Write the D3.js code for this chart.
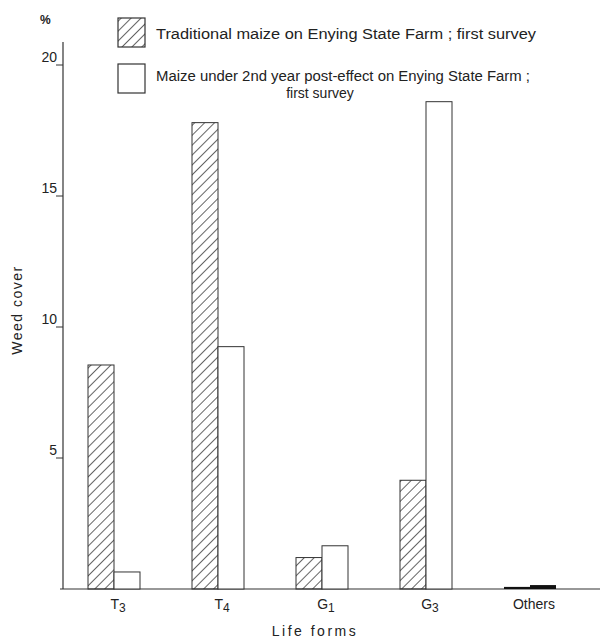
<!DOCTYPE html>
<html><head><meta charset="utf-8">
<script src="https://cdn.jsdelivr.net/npm/d3@7"></script>
<style>body{margin:0;background:#fff}svg{display:block}text{font-family:"Liberation Sans",Arial,sans-serif;fill:#222}</style>
</head><body>
<script>
const categories = ["T3","T4","G1","G3","Others"];
const traditional = [8.55, 17.8, 1.2, 4.15, 0.08];
const postEffect = [0.65, 9.25, 1.65, 18.6, 0.15];
const yTicks = [5, 10, 15, 20];
const seriesNames = ["Traditional maize on Enying State Farm ; first survey",
  "Maize under 2nd year post-effect on Enying State Farm ;", "first survey"];

const W=600,H=642;
const svg=d3.select("body").append("svg").attr("width",W).attr("height",H);
const defs=svg.append("defs");
const pat=defs.append("pattern").attr("id","hatch").attr("patternUnits","userSpaceOnUse")
  .attr("width",7).attr("height",7).attr("patternTransform","rotate(45)");
pat.append("line").attr("x1",0).attr("y1",0).attr("x2",0).attr("y2",7).attr("stroke","#222").attr("stroke-width",1.4);

const x=d3.scaleBand().domain(categories).range([62,582]).paddingInner(0.5).paddingOuter(0.25);
const y=d3.scaleLinear().domain([0,20]).range([589,65]);
const bw=x.bandwidth()/2;

// axes lines
svg.append("line").attr("x1",63).attr("x2",63).attr("y1",42).attr("y2",y(0)).attr("stroke","#333").attr("stroke-width",1.2);
svg.append("line").attr("x1",60).attr("x2",600).attr("y1",y(0)).attr("y2",y(0)).attr("stroke","#333").attr("stroke-width",1.2);

// ticks
const tg=svg.append("g").selectAll("g").data(yTicks).join("g");
tg.append("line").attr("x1",56).attr("x2",63).attr("y1",d=>y(d)).attr("y2",d=>y(d)).attr("stroke","#333");
tg.append("text").attr("x",57).attr("y",d=>y(d)-3).attr("text-anchor","end").attr("font-size",14).text(d=>d);

svg.append("text").attr("x",40).attr("y",24).attr("font-size",12).attr("font-weight","bold").text("%");
svg.append("text").attr("transform","translate(22,310) rotate(-90)").attr("text-anchor","middle")
  .attr("font-size",14).attr("letter-spacing",1.5).text("Weed cover");

// bars
const isOthers=d=>d==="Others";
svg.append("g").selectAll("rect").data(categories).join("rect")
  .attr("x",d=>x(d)).attr("width",bw)
  .attr("y",(d,i)=>y(traditional[i])).attr("height",(d,i)=>y(0)-y(traditional[i]))
  .attr("fill",d=>isOthers(d)?"#111":"url(#hatch)").attr("stroke",d=>isOthers(d)?"none":"#333").attr("stroke-width",1);
svg.append("g").selectAll("rect").data(categories).join("rect")
  .attr("x",d=>x(d)+bw).attr("width",bw)
  .attr("y",(d,i)=>y(postEffect[i])).attr("height",(d,i)=>y(0)-y(postEffect[i]))
  .attr("fill",d=>isOthers(d)?"#111":"#fff").attr("stroke",d=>isOthers(d)?"none":"#333").attr("stroke-width",1);

// category labels
const lab=svg.append("g").selectAll("text").data(categories).join("text")
  .attr("x",d=>x(d)+x.bandwidth()/2+4).attr("y",609).attr("text-anchor","middle").attr("font-size",14);
lab.each(function(d){
  const t=d3.select(this);
  if(d==="Others"){t.text(d);return;}
  t.append("tspan").text(d[0]);
  t.append("tspan").attr("dy",3).attr("font-size",12).text(d.slice(1));
});
svg.append("text").attr("x",315).attr("y",636).attr("text-anchor","middle").attr("font-size",14)
  .attr("letter-spacing",2.5).text("Life forms");

// legend
svg.append("rect").attr("x",118).attr("y",18).attr("width",27).attr("height",29)
  .attr("fill","url(#hatch)").attr("stroke","#333").attr("stroke-width",1.2);
svg.append("rect").attr("x",118).attr("y",64).attr("width",27).attr("height",29)
  .attr("fill","#fff").attr("stroke","#333").attr("stroke-width",1.2);
svg.append("text").attr("x",156).attr("y",39).attr("font-size",14).attr("textLength",380).attr("lengthAdjust","spacingAndGlyphs").text(seriesNames[0]);
svg.append("text").attr("x",156).attr("y",81).attr("font-size",14).attr("textLength",374).attr("lengthAdjust","spacingAndGlyphs").text(seriesNames[1]);
svg.append("text").attr("x",320).attr("y",98).attr("text-anchor","middle").attr("font-size",14).text(seriesNames[2]);
</script>
</body></html>
